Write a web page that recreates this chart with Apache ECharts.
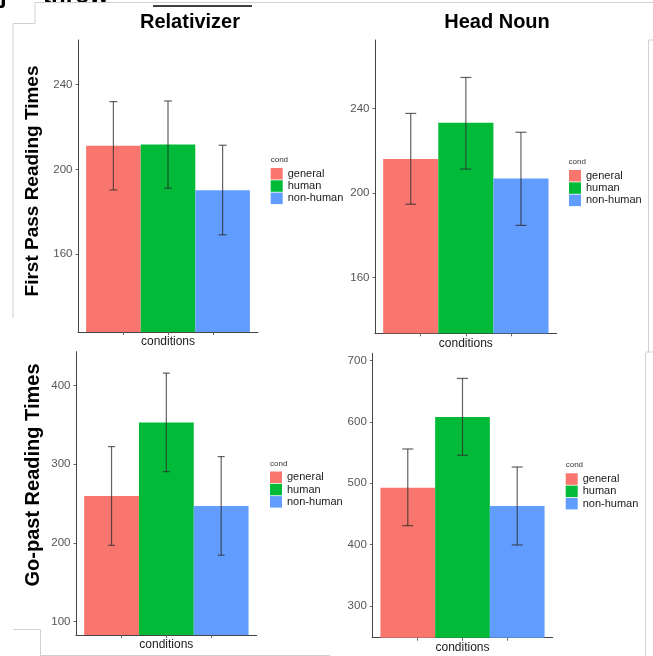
<!DOCTYPE html>
<html>
<head>
<meta charset="utf-8">
<script src="https://cdn.jsdelivr.net/npm/echarts@6/dist/echarts.min.js"></script>
<style>
  html, body { margin: 0; padding: 0; background: #fff; }
  #chart { width: 653px; height: 656px; }
</style>
</head>
<body>
<div id="chart"></div>
<script>
// ---------- data ----------
const categories = ['conditions'];
const conds = ['general', 'human', 'non-human'];
const colors = ['#F8766D', '#00BA38', '#619CFF'];

const panelTitles = ['Relativizer', 'Head Noun'];
const rowTitles = ['First Pass Reading Times', 'Go-past Reading Times'];

// First pass, relativizer
const fpRelMean = [211.2, 211.7, 190.1];
const fpRelLow  = [190.3, 191.1, 169.1];
const fpRelHigh = [232.0, 232.3, 211.4];
// First pass, head noun
const fpHeadMean = [216.1, 233.2, 206.8];
const fpHeadLow  = [194.7, 211.3, 184.7];
const fpHeadHigh = [237.6, 254.6, 228.7];
// Go-past, relativizer
const gpRelMean = [259.7, 353.0, 247.0];
const gpRelLow  = [197.0, 290.6, 184.4];
const gpRelHigh = [322.4, 415.8, 309.7];
// Go-past, head noun
const gpHeadMean = [492.8, 608.0, 463.0];
const gpHeadLow  = [431.0, 545.7, 399.5];
const gpHeadHigh = [556.0, 671.0, 526.6];

// axis ranges and tick labels
const fpRelRange = [123.2, 261.1];
const fpHeadRange = [133.7, 272.3];
const gpRelRange = [83, 443];
const gpHeadRange = [248.3, 712];
const fpTicks = [160, 200, 240];
const gpRelTicks = [100, 200, 300, 400];
const gpHeadTicks = [300, 400, 500, 600, 700];

// ---------- layout ----------
const panels = [
  { mean: fpRelMean, low: fpRelLow, high: fpRelHigh, range: fpRelRange, ticks: fpTicks,
    grid: { left: 78, top: 40, width: 180, height: 292 }, cap: 8,
    legend: { left: 270.7, top: 168 }, condPos: [270.7, 160] },
  { mean: fpHeadMean, low: fpHeadLow, high: fpHeadHigh, range: fpHeadRange, ticks: fpTicks,
    grid: { left: 375, top: 40, width: 181.7, height: 293.3 }, cap: 11,
    legend: { left: 569, top: 170 }, condPos: [568.5, 161.5] },
  { mean: gpRelMean, low: gpRelLow, high: gpRelHigh, range: gpRelRange, ticks: gpRelTicks,
    grid: { left: 76, top: 351.7, width: 180.7, height: 283.3 }, cap: 7,
    legend: { left: 270, top: 471.5 }, condPos: [270, 463.5] },
  { mean: gpHeadMean, low: gpHeadLow, high: gpHeadHigh, range: gpHeadRange, ticks: gpHeadTicks,
    grid: { left: 372.3, top: 353.3, width: 180.4, height: 284.4 }, cap: 11,
    legend: { left: 565.7, top: 473.3 }, condPos: [565.7, 465] }
];

const GAP = 0.09;
const FONT = '"Liberation Sans", Arial, Helvetica, sans-serif';

const grid = [], xAxis = [], yAxis = [], series = [], legend = [];
const graphicEls = [];

panels.forEach((p, pi) => {
  grid.push(Object.assign({ containLabel: false }, p.grid));
  xAxis.push({
    type: 'category', gridIndex: pi, data: categories,
    axisLine: { show: true, lineStyle: { color: '#444', width: 1 } },
    axisTick: { show: true, alignWithLabel: true, length: 3, lineStyle: { color: '#666' } },
    axisLabel: { margin: 4, fontSize: 12, color: '#1a1a1a', fontFamily: FONT },
    splitLine: { show: false }
  });
  yAxis.push({
    type: 'value', gridIndex: pi, min: p.range[0], max: p.range[1],
    axisLine: { show: true, lineStyle: { color: '#444', width: 1 } },
    axisTick: { show: true, length: 2.5, customValues: p.ticks, lineStyle: { color: '#666' } },
    axisLabel: { customValues: p.ticks, margin: 5.5, fontSize: 11.5, color: '#555', fontFamily: FONT },
    splitLine: { show: false }
  });
  conds.forEach((c, ci) => {
    series.push({
      type: 'bar', name: c, xAxisIndex: pi, yAxisIndex: pi,
      data: [p.mean[ci]],
      barGap: '0%', barCategoryGap: (GAP * 100) + '%',
      itemStyle: { color: colors[ci] },
      emphasis: { disabled: true },
      silent: true
    });
  });
  series.push({
    type: 'custom', xAxisIndex: pi, yAxisIndex: pi, silent: true, z: 5,
    data: conds.map((c, ci) => [0, p.low[ci], p.high[ci], ci]),
    renderItem: (params, api) => {
      const i = api.value(3);
      const lo = api.coord([api.value(0), api.value(1)]);
      const hi = api.coord([api.value(0), api.value(2)]);
      const band = api.size([1, 0])[0];
      const bw = band * (1 - GAP) / 3;
      const x = lo[0] + (i - 1) * bw;
      const h = p.cap / 2;
      const st = { stroke: 'rgba(45,45,45,0.75)', lineWidth: 1.2 };
      return {
        type: 'group', children: [
          { type: 'line', shape: { x1: x, y1: hi[1], x2: x, y2: lo[1] }, style: st },
          { type: 'line', shape: { x1: x - h, y1: hi[1], x2: x + h, y2: hi[1] }, style: st },
          { type: 'line', shape: { x1: x - h, y1: lo[1], x2: x + h, y2: lo[1] }, style: st }
        ]
      };
    }
  });
  legend.push({
    orient: 'vertical', left: p.legend.left, top: p.legend.top,
    data: conds, icon: 'rect', itemWidth: 12, itemHeight: 11.5, itemGap: 0.8,
    selectedMode: false, padding: 0,
    textStyle: { fontSize: 11, color: '#1a1a1a', fontFamily: FONT, lineHeight: 11.5 }
  });
  graphicEls.push({
    type: 'text', x: p.condPos[0], y: p.condPos[1], silent: true,
    style: { text: 'cond', fontSize: 8, fill: '#333', font: '8px ' + FONT, verticalAlign: 'middle', align: 'left' }
  });
});

// extra minor ticks on the x axes (ggplot dodge ticks)
panels.forEach((p, pi) => {
  xAxis.push({
    type: 'value', gridIndex: pi, min: 0, max: 4, position: 'bottom',
    axisLine: { show: false },
    axisTick: { show: true, customValues: [1, 3], length: 3, lineStyle: { color: '#666' } },
    axisLabel: { show: false },
    splitLine: { show: false }
  });
});

// titles
graphicEls.push(
  { type: 'text', x: 190, y: 22, silent: true,
    style: { text: panelTitles[0], font: 'bold 20px ' + FONT, fill: '#000', align: 'center', verticalAlign: 'middle' } },
  { type: 'text', x: 497, y: 22, silent: true,
    style: { text: panelTitles[1], font: 'bold 20px ' + FONT, fill: '#000', align: 'center', verticalAlign: 'middle' } },
  { type: 'text', x: 33, y: 181, rotation: Math.PI / 2, silent: true,
    style: { text: rowTitles[0], font: 'bold 19px ' + FONT, fill: '#000', align: 'center', verticalAlign: 'middle' } },
  { type: 'text', x: 33, y: 475, rotation: Math.PI / 2, silent: true,
    style: { text: rowTitles[1], font: 'bold 20px ' + FONT, fill: '#000', align: 'center', verticalAlign: 'middle' } },
  // cut-off text at the very top
  { type: 'text', x: 0, y: 8.5, silent: true,
    style: { text: 'j', font: 'bold 24px ' + FONT, fill: '#000', align: 'left', verticalAlign: 'bottom' } },
  { type: 'text', x: 43, y: 8, silent: true,
    style: { text: 'throw', font: 'bold 24px ' + FONT, fill: '#000', align: 'left', verticalAlign: 'bottom' } },
  // line above title
  { type: 'line', silent: true, shape: { x1: 153, y1: 6, x2: 252, y2: 6 }, style: { stroke: '#000', lineWidth: 1.5 } }
);

// image border artifacts
const grayLine = (x1, y1, x2, y2) => ({ type: 'line', silent: true, shape: { x1, y1, x2, y2 }, style: { stroke: '#d0d0d0', lineWidth: 1 } });
graphicEls.push(
  grayLine(35, 2.5, 653, 2.5),
  grayLine(35, 2.5, 35, 23.5),
  grayLine(13, 23.5, 35, 23.5),
  grayLine(13, 23.5, 13, 318),
  grayLine(648.5, 40, 648.5, 352),
  grayLine(648.5, 40, 653, 40),
  grayLine(13, 629.5, 40.5, 629.5),
  grayLine(40.5, 629.5, 40.5, 656),
  grayLine(40.5, 655.5, 330, 655.5),
  grayLine(645.5, 353, 645.5, 656),
  grayLine(645.5, 352, 653, 352)
);

const chart = echarts.init(document.getElementById('chart'), null, { renderer: 'canvas' });
chart.setOption({
  animation: false,
  backgroundColor: '#fff',
  grid, xAxis, yAxis, series, legend,
  graphic: { elements: graphicEls }
});
</script>
</body>
</html>
